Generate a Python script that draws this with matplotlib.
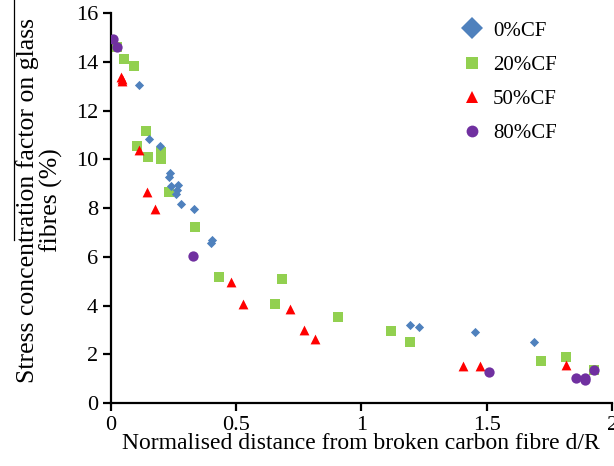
import matplotlib
matplotlib.use("Agg")
import matplotlib.pyplot as plt
from matplotlib.lines import Line2D

plt.rcParams["font.family"] = ["Liberation Serif", "DejaVu Serif"]
plt.rcParams["font.size"] = 13

# data
x_cf0 = [0.113, 0.154, 0.196, 0.237, 0.232, 0.241, 0.270, 0.264, 0.261, 0.280, 0.333, 0.404, 0.401,
         1.195, 1.231, 1.452, 1.687]
y_cf0 = [13.03, 10.84, 10.54, 9.43, 9.29, 8.91, 8.95, 8.75, 8.57, 8.17, 7.95, 6.69, 6.56,
         3.20, 3.13, 2.90, 2.49]

x_cf20 = [0.025, 0.054, 0.095, 0.142, 0.104, 0.148, 0.200, 0.200, 0.233, 0.335, 0.433, 0.682, 0.656,
          0.905, 1.118, 1.196, 1.718, 1.816, 1.929]
y_cf20 = [14.59, 14.13, 13.84, 11.17, 10.53, 10.09, 10.28, 10.00, 8.67, 7.24, 5.17, 5.08, 4.08,
          3.55, 2.97, 2.52, 1.74, 1.88, 1.36]

x_cf50 = [0.040, 0.044, 0.046, 0.115, 0.144, 0.176, 0.481, 0.530, 0.714, 0.773, 0.816,
          1.404, 1.473, 1.814]
y_cf50 = [13.38, 13.30, 13.20, 10.39, 8.64, 7.95, 4.98, 4.08, 3.85, 3.00, 2.63,
          1.53, 1.53, 1.56]

x_cf80 = [0.011, 0.025, 0.330, 1.510, 1.856, 1.893, 1.893, 1.929]
y_cf80 = [14.93, 14.59, 6.04, 1.29, 1.01, 1.04, 0.94, 1.36]

labels = ["0%CF", "20%CF", "50%CF", "80%CF"]
colors = ["#4F81BD", "#92D050", "#FF0000", "#7030A0"]

fig = plt.figure(figsize=(6.14, 4.66), dpi=100)
ax = fig.add_axes([0.180, 0.135, 0.817, 0.837])

ax.scatter(x_cf0, y_cf0, marker="D", s=22, color=colors[0], linewidths=0, zorder=3)
ax.scatter(x_cf20, y_cf20, marker="s", s=48, color=colors[1], linewidths=0, zorder=2)
ax.scatter(x_cf50, y_cf50, marker="^", s=50, color=colors[2], linewidths=0, zorder=4)
ax.scatter(x_cf80, y_cf80, marker="o", s=55, color=colors[3], linewidths=0, zorder=5)

ax.set_xlim(0, 2)
ax.set_ylim(0, 16)
ax.set_xticks([0, 0.5, 1, 1.5, 2])
ax.set_xticklabels(["0", "0.5", "1", "1.5", "2"])
ax.set_yticks(range(0, 17, 2))
for side in ["top", "right"]:
    ax.spines[side].set_visible(False)
for side in ["left", "bottom"]:
    ax.spines[side].set_linewidth(1.6)
ax.tick_params(direction="out", length=6, width=1.6, labelsize=16, pad=3)

ax.set_xlabel("Normalised distance from broken carbon fibre d/R", fontsize=17, labelpad=-1)
ax.set_ylabel("Stress concentration factor on glass\nfibres (%)", fontsize=18.5,
              linespacing=1.0)
ax.yaxis.set_label_coords(-0.095, 0.52)

handles = [
    Line2D([], [], ls="", marker="D", ms=11, color=colors[0], mew=0),
    Line2D([], [], ls="", marker="s", ms=8, color=colors[1], mew=0),
    Line2D([], [], ls="", marker="^", ms=9, color=colors[2], mew=0),
    Line2D([], [], ls="", marker="o", ms=8.5, color=colors[3], mew=0),
]
ax.legend(handles, labels, loc="upper left", bbox_to_anchor=(0.718, 0.995),
          bbox_transform=fig.transFigure, frameon=False, fontsize=15,
          labelspacing=0.7, handletextpad=0.4, handlelength=1.2)

# thin line left of the y label, as in the reference
fig.add_artist(Line2D([14 / 614, 14 / 614], [1, 1 - 240 / 466], transform=fig.transFigure,
                      color="black", lw=0.9))

fig.savefig("out.png", dpi=100)
